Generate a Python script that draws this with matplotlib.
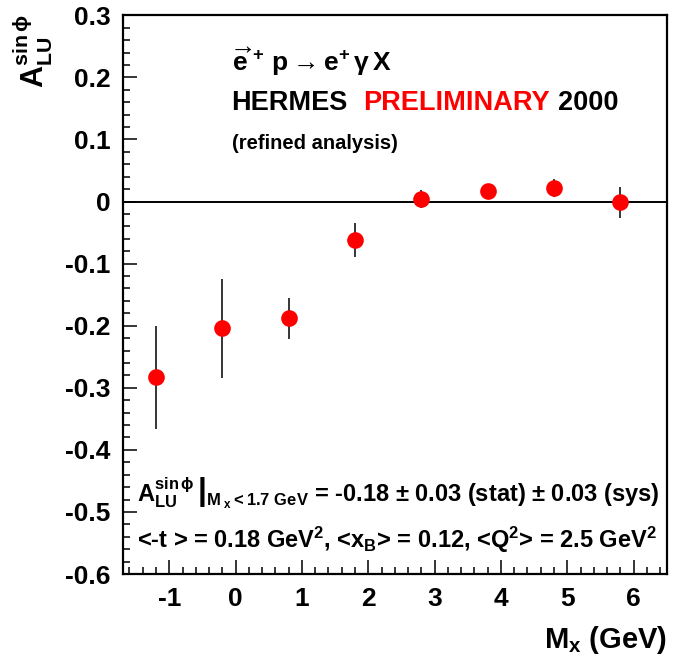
import matplotlib
matplotlib.use("Agg")
import matplotlib.pyplot as plt
from matplotlib.ticker import MultipleLocator, FixedLocator

plt.rcParams["font.family"] = ["Liberation Sans", "DejaVu Sans"]
plt.rcParams["font.weight"] = "bold"
plt.rcParams["mathtext.fontset"] = "custom"
plt.rcParams["mathtext.rm"] = "Liberation Sans:bold"
plt.rcParams["mathtext.bf"] = "Liberation Sans:bold"
plt.rcParams["mathtext.it"] = "Liberation Sans:bold"
plt.rcParams["mathtext.sf"] = "Liberation Sans:bold"
plt.rcParams["mathtext.default"] = "bf"
plt.rcParams["axes.unicode_minus"] = False

# Beam-spin asymmetry vs missing mass
mx = [-1.2, -0.2, 0.8, 1.8, 2.8, 3.8, 4.8, 5.8]
asym = [-0.283, -0.204, -0.188, -0.062, 0.004, 0.017, 0.022, -0.001]
err = [0.083, 0.080, 0.033, 0.027, 0.015, 0.008, 0.014, 0.025]

xticks = [-1, 0, 1, 2, 3, 4, 5, 6]
yticks = [0.3, 0.2, 0.1, 0, -0.1, -0.2, -0.3, -0.4, -0.5, -0.6]
ytick_labels = ["0.3", "0.2", "0.1", "0", "-0.1", "-0.2", "-0.3", "-0.4", "-0.5", "-0.6"]

fig = plt.figure(figsize=(6.86, 6.64), dpi=100)
ax = fig.add_axes([0.179, 0.1355, 0.793, 0.8415])

ax.set_xlim(-1.7, 6.5)
ax.set_ylim(-0.6, 0.3)

ax.axhline(0, color="black", lw=1.4, zorder=1)
ax.errorbar(mx, asym, yerr=err, fmt="o", color="red", ecolor="black",
            elinewidth=1.1, capsize=0, markersize=12, markeredgewidth=0, zorder=3)

for s in ax.spines.values():
    s.set_linewidth(1.6)

ax.xaxis.set_major_locator(FixedLocator(xticks))
ax.xaxis.set_minor_locator(MultipleLocator(0.2))
ax.yaxis.set_major_locator(FixedLocator(yticks))
ax.set_yticklabels(ytick_labels)
ax.yaxis.set_minor_locator(MultipleLocator(0.02))
ax.tick_params(which="both", direction="in", top=False, right=False, width=1.1,
               labelsize=19)
ax.tick_params(which="major", length=10)
ax.tick_params(which="minor", length=5)
ax.tick_params(axis="x", pad=9)
ax.tick_params(axis="y", pad=9)
for lab in ax.get_xticklabels() + ax.get_yticklabels():
    lab.set_fontweight("bold")

fig.text(0.972, 0.036, r"$M_{x}$ (GeV)", ha="right", va="center",
         fontsize=21, fontweight="bold")
fig.text(0.048, 0.978, r"$A^{sin\,\phi}_{LU}$", ha="center", va="top",
         rotation=90, fontsize=22, fontweight="bold")

ax.text(0.2, 0.917, r"$\overrightarrow{e}^{\,+}\,p\rightarrow e^{+}\,\gamma\,X$",
        transform=ax.transAxes, fontsize=19, ha="left", va="center")

t1 = ax.text(0.2, 0.843, "HERMES", transform=ax.transAxes, fontsize=19.5,
             ha="left", va="center", fontweight="bold")
t2 = ax.annotate("PRELIMINARY", xy=(1, 0), xycoords=t1, xytext=(11, 0),
                 textcoords="offset points", fontsize=19.5, color="red",
                 fontweight="bold", va="bottom")
ax.annotate("2000", xy=(1, 0), xycoords=t2, xytext=(6, 0),
            textcoords="offset points", fontsize=19.5, color="black",
            fontweight="bold", va="bottom")

ax.text(0.2, 0.77, "(refined analysis)", transform=ax.transAxes, fontsize=14.5,
        ha="left", va="center", fontweight="bold")

ax.text(0.026, 0.145,
        r"$\left.A^{sin\,\phi}_{LU}\,\right|_{M_{\ x}< 1.7\ GeV}$ = -0.18 $\pm$ 0.03 (stat) $\pm$ 0.03 (sys)",
        transform=ax.transAxes, fontsize=17, ha="left", va="center",
        fontweight="bold")
ax.text(0.026, 0.061,
        r"<-t > = 0.18 GeV$^{2}$, <x$_{B}$> = 0.12, <Q$^{2}$> = 2.5 GeV$^{2}$",
        transform=ax.transAxes, fontsize=17, ha="left", va="center",
        fontweight="bold")

fig.savefig("out.png", dpi=100)
